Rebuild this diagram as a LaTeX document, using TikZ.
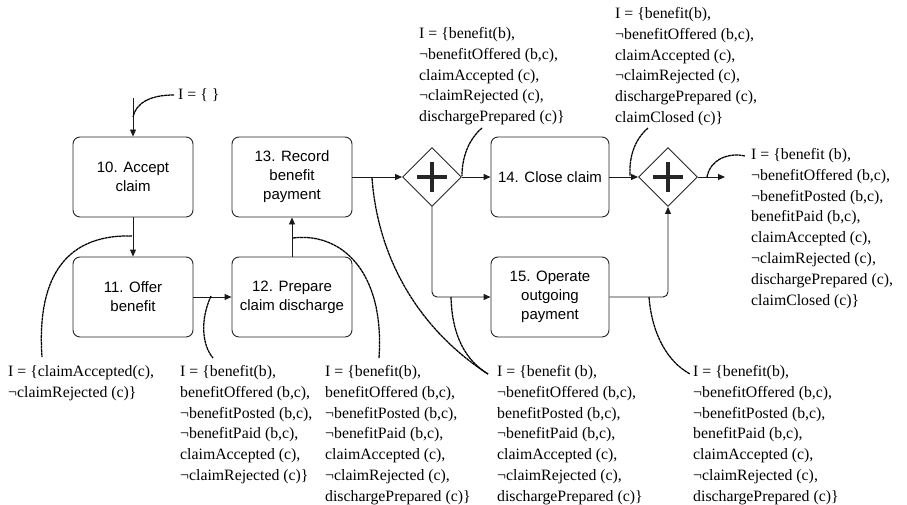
\documentclass[tikz,border=0pt]{standalone}
\usepackage{fontspec}
\setmainfont{Liberation Serif}
\newfontfamily\boxfont{Liberation Sans}
\usetikzlibrary{arrows.meta,shapes.geometric}
\begin{document}
\begin{tikzpicture}[x=1pt,y=-1pt,
  task/.style={draw=black!85, line width=0.9pt, rounded corners=7pt, minimum width=120pt, minimum height=80pt, align=center, font=\boxfont\fontsize{15}{19}\selectfont, inner sep=0pt},
  gate/.style={draw=black!85, line width=0.9pt, diamond, minimum width=59pt, minimum height=59pt, inner sep=0pt,
    path picture={\draw[line width=4.6pt] (path picture bounding box.center) ++(-15pt,0pt) -- ++(30pt,0pt);
                  \draw[line width=4.6pt] (path picture bounding box.center) ++(0pt,-15pt) -- ++(0pt,30pt);}},
  flow/.style={draw=black!90, line width=0.9pt, -{Triangle[length=7pt,width=6pt]}},
  ann/.style={font=\fontsize{15.8}{20.8}\selectfont, align=left, inner sep=0pt, anchor=north west},
  link/.style={line width=1.25pt, dash pattern=on 3pt off 0.5pt}
]
\useasboundingbox (0,0) rectangle (907,505);
% tasks
\node[task] (b10) at (133,177) {10. Accept\\claim};
\node[task] (b13) at (292,177) {13. Record\\benefit\\payment};
\node[task] (b11) at (133,297) {11. Offer\\benefit};
\node[task] (b12) at (292,297) {12. Prepare\\claim discharge};
\node[gate] (g1) at (432,177) {};
\node[task, minimum width=118pt] (b14) at (550,177) {14. Close claim};
\node[task, minimum width=118pt] (b15) at (550,297) {15. Operate\\outgoing\\payment};
\node[gate] (g2) at (668,177) {};
\coordinate (start) at (133,98);
\coordinate (endp) at (725,177);
% flows
\draw[flow] (start) -- (b10.north);
\draw[flow] (b10.south) -- (b11.north);
\draw[flow] (b11.east) -- (b12.west);
\draw[flow] (b12.north) -- (b13.south);
\draw[flow] (b13.east) -- (g1.west);
\draw[flow] (g1.east) -- (b14.west);
\draw[flow, rounded corners=5pt] (g1.south) |- (b15.west);
\draw[flow] (b14.east) -- (g2.west);
\draw[flow, rounded corners=5pt] (b15.east) -| (g2.south);
\draw[flow] (g2.east) -- (endp);
% annotations
\node[ann, anchor=base west] (t0) at (178,100) {I = \{ \}};
\node[ann] (t1) at (419,27.2) {I = \{benefit(b),\\¬benefitOffered (b,c),\\claimAccepted (c),\\¬claimRejected (c),\\dischargePrepared (c)\}};
\node[ann] (t2) at (615,7.2) {I = \{benefit(b),\\¬benefitOffered (b,c),\\claimAccepted (c),\\¬claimRejected (c),\\dischargePrepared (c),\\claimClosed (c)\}};
\node[ann] (t3) at (751,148.2) {I = \{benefit (b),\\¬benefitOffered (b,c),\\¬benefitPosted (b,c),\\benefitPaid (b,c),\\claimAccepted (c),\\¬claimRejected (c),\\dischargePrepared (c),\\claimClosed (c)\}};
\node[ann] (t4) at (8,365.2) {I = \{claimAccepted(c),\\¬claimRejected (c)\}};
\node[ann] (t5) at (180,365.2) {I = \{benefit(b),\\benefitOffered (b,c),\\¬benefitPosted (b,c),\\¬benefitPaid (b,c),\\claimAccepted (c),\\¬claimRejected (c)\}};
\node[ann] (t6) at (325,365.2) {I = \{benefit(b),\\benefitOffered (b,c),\\¬benefitPosted (b,c),\\¬benefitPaid (b,c),\\claimAccepted (c),\\¬claimRejected (c),\\dischargePrepared (c)\}};
\node[ann] (t7) at (497,365.2) {I = \{benefit (b),\\¬benefitOffered (b,c),\\benefitPosted (b,c),\\¬benefitPaid (b,c),\\claimAccepted (c),\\¬claimRejected (c),\\dischargePrepared (c)\}};
\node[ann] (t8) at (693,365.2) {I = \{benefit(b),\\¬benefitOffered (b,c),\\¬benefitPosted (b,c),\\benefitPaid (b,c),\\claimAccepted (c),\\¬claimRejected (c),\\dischargePrepared (c)\}};
% link end points
\coordinate (a0) at (174,95);   \coordinate (p0) at (133,117);
\coordinate (a4) at (42,357);   \coordinate (p4) at (132,236);
\coordinate (a5) at (213,358);  \coordinate (p5) at (211,296);
\coordinate (a6) at (379,358);  \coordinate (p6) at (293,238);
\coordinate (a7) at (488,374);  \coordinate (p7a) at (372,178); \coordinate (p7b) at (451,297);
\coordinate (a1) at (482,128);  \coordinate (p1) at (462,176);
\coordinate (a2) at (648,128);  \coordinate (p2) at (630,176);
\coordinate (a3) at (745,156);  \coordinate (p3) at (707,177);
\coordinate (a8) at (690,374);  \coordinate (p8) at (649,297);
% links
\draw[link] (a0) .. controls (150,95) and (136,103) .. (p0);
\draw[link] (p4) .. controls (60,234) and (37,285) .. (a4);
\draw[link] (p5) .. controls (200,320) and (202,345) .. (a5);
\draw[link] (p6) .. controls (340,232) and (385,270) .. (a6);
\draw[link] (p7a) .. controls (378,260) and (420,330) .. (a7);
\draw[link] (p7b) .. controls (452,335) and (465,360) .. (a7);
\draw[link] (a1) .. controls (468,140) and (462,158) .. (p1);
\draw[link] (a2) .. controls (634,140) and (629,158) .. (p2);
\draw[link] (p3) .. controls (710,160) and (728,152) .. (a3);
\draw[link] (p8) .. controls (652,335) and (668,362) .. (a8);
\end{tikzpicture}
\end{document}
